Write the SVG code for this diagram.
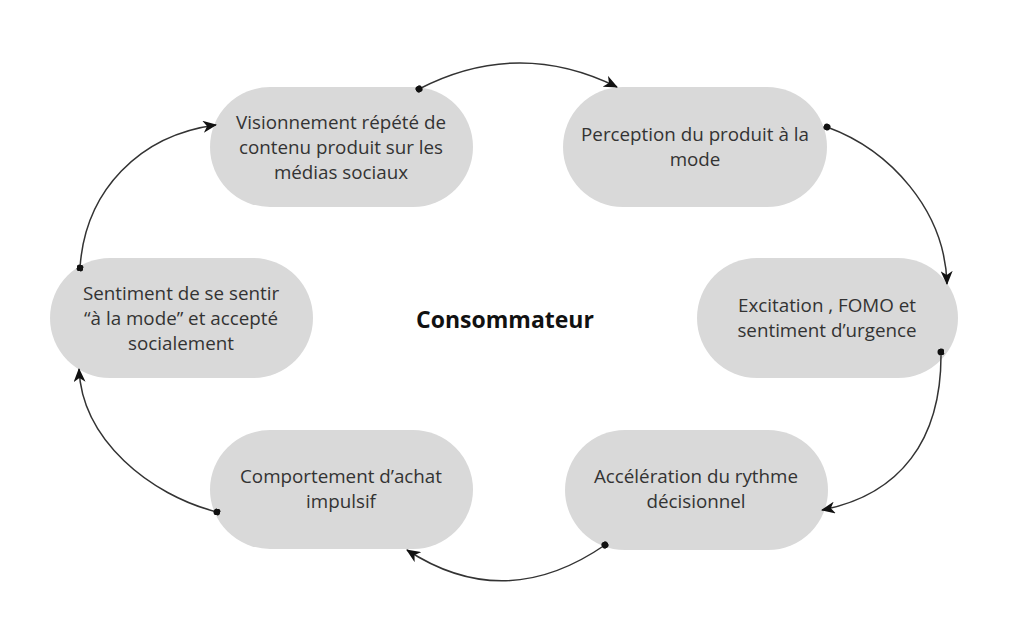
<svg xmlns="http://www.w3.org/2000/svg" width="1024" height="625" viewBox="0 0 1024 625">
<defs>
<style>
.node rect{fill:#d9d9d9;}
.node text{font-family:"Open Sans","Liberation Sans",sans-serif;font-size:18.8px;fill:#333333;text-anchor:middle;}
.title{font-family:"Open Sans","Liberation Sans",sans-serif;font-size:23px;font-weight:bold;fill:#111111;text-anchor:middle;}
.conn path{fill:none;stroke:#333333;stroke-width:1.5;marker-end:url(#arr);marker-start:url(#dot);}
</style>
<marker id="arr" viewBox="0 0 14 12" refX="13" refY="6" markerWidth="14" markerHeight="12" markerUnits="userSpaceOnUse" orient="auto">
<path d="M0,0 L14,6 L0,12 L4,6 Z" fill="#111111"/>
</marker>
<marker id="dot" viewBox="0 0 8 8" refX="4" refY="4" markerWidth="7" markerHeight="7" markerUnits="userSpaceOnUse" orient="auto">
<circle cx="4" cy="4" r="4" fill="#111111"/>
</marker>
</defs>
<rect width="1024" height="625" fill="#ffffff"/>
<g id="n1" class="node">
<rect x="210" y="87" width="263" height="120" rx="60"/>
<text x="341" y="129">Visionnement répété de</text>
<text x="341" y="154">contenu produit sur les</text>
<text x="341" y="179">médias sociaux</text>
</g>
<g id="n2" class="node">
<rect x="563" y="87" width="264" height="120" rx="60"/>
<text x="695" y="141">Perception du produit à la</text>
<text x="695" y="166">mode</text>
</g>
<g id="n3" class="node">
<rect x="697" y="258" width="261" height="120" rx="60"/>
<text x="827" y="312">Excitation , FOMO et</text>
<text x="827" y="337">sentiment d’urgence</text>
</g>
<g id="n4" class="node">
<rect x="50" y="258" width="263" height="120" rx="60"/>
<text x="181" y="300">Sentiment de se sentir</text>
<text x="181" y="325">“à la mode” et accepté</text>
<text x="181" y="350">socialement</text>
</g>
<g id="n5" class="node">
<rect x="565" y="430" width="263" height="120" rx="60"/>
<text x="696" y="483">Accélération du rythme</text>
<text x="696" y="508">décisionnel</text>
</g>
<g id="n6" class="node">
<rect x="210" y="430" width="263" height="119" rx="60"/>
<text x="341" y="483">Comportement d’achat</text>
<text x="341" y="508">impulsif</text>
</g>
<text id="center" class="title" x="505" y="328">Consommateur</text>
<g id="connectors" class="conn">
<path d="M419,89 Q518,38 617,87"/>
<path d="M827,127 C890,150 945,210 947,284"/>
<path d="M941,352 C942,440 900,495 822,510"/>
<path d="M605,545 Q505,614 407,550"/>
<path d="M217,512 C150,495 82,440 79,369"/>
<path d="M80,268 C85,190 140,135 216,125"/>
</g>
</svg>
